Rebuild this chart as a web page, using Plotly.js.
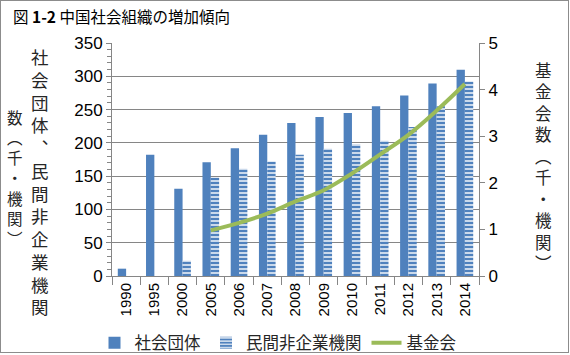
<!DOCTYPE html>
<html>
<head>
<meta charset="utf-8">
<script src="https://cdn.plot.ly/plotly-3.0.1.min.js"></script>
<style>
  html, body { margin: 0; padding: 0; background: #fff; }
  #wrap { position: relative; width: 570px; height: 355px; }
  #chart { position: absolute; left: 0; top: 0; width: 570px; height: 355px; }
  #frame { position: absolute; left: 0; top: 0; width: 567px; height: 351px; border: 1px solid #8c8c8c; pointer-events: none; }
</style>
</head>
<body>
<div id="wrap"><div id="chart"></div><div id="frame"></div></div>
<script>
const years = ['1990','1995','2000','2005','2006','2007','2008','2009','2010','2011','2012','2013','2014'];
const socialOrgs = [11, 182, 131, 171, 192, 212, 230, 239, 245, 255, 271, 289, 310];
const privateNonEnt = [null, null, 23, 148, 161, 172, 182, 191, 198, 203, 224, 255, 292];
const foundations = [null, null, null, 0.98, 1.14, 1.34, 1.60, 1.84, 2.20, 2.61, 3.03, 3.55, 4.12];

const seriesNames = ['社会団体', '民間非企業機関', '基金会'];
const leftTitle1 = '社会団体︑民間非企業機関';
const leftTitle2 = '数︵千・機関︶';
const rightTitle = '基金会数︵千・機関︶';
const chartTitle = '図 <b>1-2</b> 中国社会組織の増加傾向';

const cjk = '"Noto Sans CJK JP", "Noto Sans", sans-serif';
const num = '"Liberation Sans", Arial, sans-serif';
const blue = '#4F81BD';
const green = '#9BBB59';
const axisCol = '#868686';
const txt = '#262626';

const vert = s => Array.from(s).join('<br>');

const traces = [
  {
    type: 'bar', name: seriesNames[0], x: years, y: socialOrgs,
    marker: { color: blue }
  },
  {
    type: 'bar', name: seriesNames[1], x: years, y: privateNonEnt,
    marker: { color: blue, pattern: { shape: '-', fgcolor: '#ffffff', bgcolor: blue, size: 4, solidity: 0.35 } }
  },
  {
    type: 'scatter', mode: 'lines', name: seriesNames[2], x: years, y: foundations,
    yaxis: 'y2', line: { color: green, width: 4, shape: 'spline' }, connectgaps: false
  }
];

const layout = {
  width: 570, height: 355,
  margin: { l: 112, r: 91, t: 43, b: 79, autoexpand: false },
  paper_bgcolor: '#ffffff', plot_bgcolor: '#ffffff',
  showlegend: true,
  barmode: 'group', bargap: 0.41, bargroupgap: 0,
  title: {
    text: chartTitle, x: 13/570, xanchor: 'left', xref: 'container',
    y: 1 - 18/355, yanchor: 'middle', yref: 'container',
    font: { family: cjk, size: 15.5, color: '#000' }
  },
  xaxis: {
    type: 'category', tickson: 'boundaries', ticks: 'outside', ticklen: 8,
    tickcolor: axisCol, showline: true, linecolor: axisCol, linewidth: 1,
    tickangle: -90, tickfont: { family: num, size: 15, color: '#000' },
    showgrid: false, zeroline: false, automargin: false
  },
  yaxis: {
    range: [0, 350], dtick: 50, tick0: 0,
    ticks: 'outside', ticklen: 5, tickcolor: axisCol,
    minor: { dtick: 10, ticks: 'outside', ticklen: 4, tickcolor: axisCol, showgrid: false },
    showline: true, linecolor: axisCol, linewidth: 1,
    showgrid: true, gridcolor: axisCol, gridwidth: 1, zeroline: false, automargin: false,
    tickfont: { family: num, size: 17, color: '#000' }
  },
  yaxis2: {
    overlaying: 'y', side: 'right', range: [0, 5], dtick: 1,
    ticks: 'outside', ticklen: 5, tickcolor: axisCol,
    showline: true, linecolor: axisCol, linewidth: 1,
    showgrid: false, zeroline: false, automargin: false,
    tickfont: { family: num, size: 17, color: '#000' }
  },
  legend: {
    orientation: 'h', xref: 'container', yref: 'container',
    x: 278 / 570, xanchor: 'center',
    y: 1 - 343 / 355, yanchor: 'middle',
    font: { family: cjk, size: 16.5, color: txt }, itemwidth: 30,
    traceorder: 'normal', bgcolor: 'rgba(0,0,0,0)'
  },
  annotations: [
    { text: vert(leftTitle1), xref: 'paper', yref: 'paper', x: (40 - 112) / 367, y: (276 - 181) / 233,
      xanchor: 'center', yanchor: 'middle', showarrow: false, font: { family: cjk, size: 17.5, color: txt } },
    { text: vert(leftTitle2), xref: 'paper', yref: 'paper', x: (15 - 112) / 367, y: (276 - 177) / 233,
      xanchor: 'center', yanchor: 'middle', showarrow: false, font: { family: cjk, size: 15.5, color: txt } },
    { text: vert(rightTitle), xref: 'paper', yref: 'paper', x: (543 - 112) / 367, y: (276 - 166) / 233,
      xanchor: 'center', yanchor: 'middle', showarrow: false, font: { family: cjk, size: 16.5, color: txt } }
  ]
};

Plotly.newPlot('chart', traces, layout, { displayModeBar: false, staticPlot: true });
</script>
</body>
</html>
